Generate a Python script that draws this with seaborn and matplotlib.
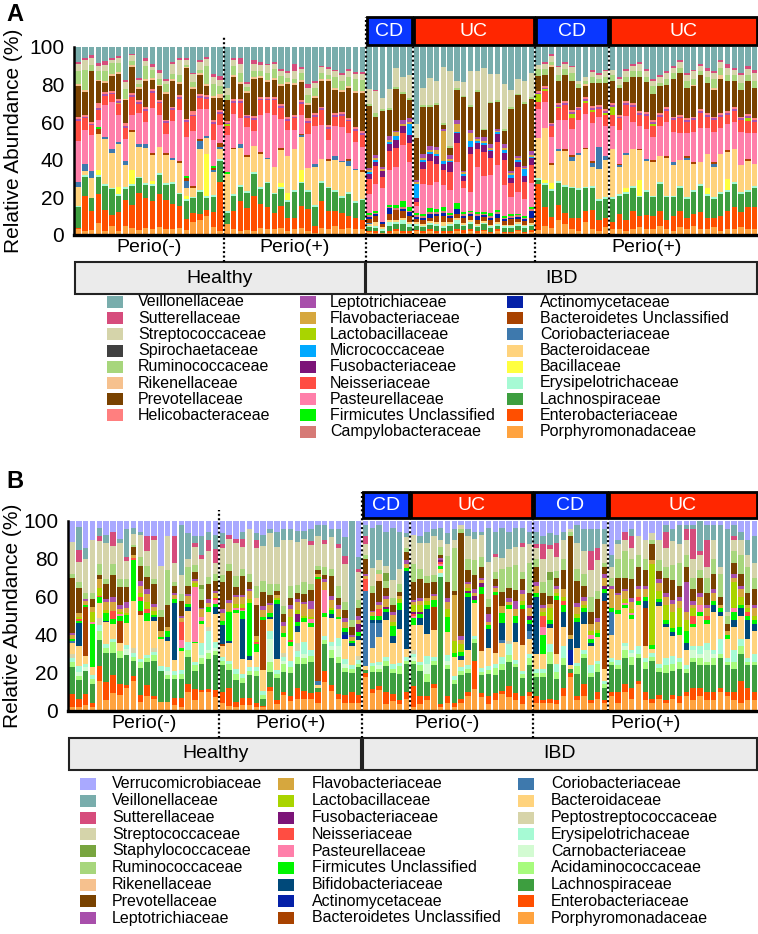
"""Stacked family-level relative abundance, oral (A) and gut (B) samples,
Healthy vs IBD split by periodontitis status. Writes out.png."""

import matplotlib

matplotlib.use('Agg')
import matplotlib.pyplot as plt
import pandas as pd
import seaborn as sns
from matplotlib.patches import Rectangle

W, H = 758, 934

COLORS = {
    'Porphyromonadaceae': '#ffa33f',
    'Enterobacteriaceae': '#ff4f00',
    'Lachnospiraceae': '#3d9e3f',
    'Erysipelotrichaceae': '#a6fad4',
    'Bacillaceae': '#ffff3f',
    'Bacteroidaceae': '#ffd37d',
    'Coriobacteriaceae': '#3e79ad',
    'Bacteroidetes Unclassified': '#a84200',
    'Actinomycetaceae': '#0521a8',
    'Campylobacteraceae': '#d67a76',
    'Firmicutes Unclassified': '#00f500',
    'Pasteurellaceae': '#ff7faa',
    'Neisseriaceae': '#ff4d42',
    'Fusobacteriaceae': '#7c1478',
    'Micrococcaceae': '#00a9ff',
    'Lactobacillaceae': '#a9d400',
    'Flavobacteriaceae': '#d6a73e',
    'Leptotrichiaceae': '#a84fab',
    'Helicobacteraceae': '#ff7f7f',
    'Prevotellaceae': '#794200',
    'Rikenellaceae': '#f6c18e',
    'Ruminococcaceae': '#a7d67c',
    'Spirochaetaceae': '#404040',
    'Streptococcaceae': '#d5d4aa',
    'Sutterellaceae': '#d64c7c',
    'Veillonellaceae': '#79adac',
    'Verrucomicrobiaceae': '#a9a9ff',
    'Staphylococcaceae': '#78a53f',
    'Bifidobacteriaceae': '#00497a',
    'Peptostreptococcaceae': '#d7d4a9',
    'Carnobacteriaceae': '#d3fbd2',
    'Acidaminococcaceae': '#a7fb7d',
}

# stacking order, bottom -> top
A_FAMILIES = [
    'Porphyromonadaceae', 'Enterobacteriaceae', 'Lachnospiraceae', 'Erysipelotrichaceae', 'Bacillaceae',
    'Bacteroidaceae', 'Coriobacteriaceae', 'Bacteroidetes Unclassified', 'Actinomycetaceae', 'Campylobacteraceae',
    'Firmicutes Unclassified', 'Pasteurellaceae', 'Neisseriaceae', 'Fusobacteriaceae', 'Micrococcaceae',
    'Lactobacillaceae', 'Flavobacteriaceae', 'Leptotrichiaceae', 'Helicobacteraceae', 'Prevotellaceae',
    'Rikenellaceae', 'Ruminococcaceae', 'Spirochaetaceae', 'Streptococcaceae', 'Sutterellaceae',
    'Veillonellaceae',
]
B_FAMILIES = [
    'Porphyromonadaceae', 'Enterobacteriaceae', 'Lachnospiraceae', 'Acidaminococcaceae', 'Carnobacteriaceae',
    'Erysipelotrichaceae', 'Peptostreptococcaceae', 'Bacteroidaceae', 'Coriobacteriaceae', 'Bacteroidetes Unclassified',
    'Actinomycetaceae', 'Bifidobacteriaceae', 'Firmicutes Unclassified', 'Pasteurellaceae', 'Neisseriaceae',
    'Fusobacteriaceae', 'Lactobacillaceae', 'Flavobacteriaceae', 'Leptotrichiaceae', 'Prevotellaceae',
    'Rikenellaceae', 'Ruminococcaceae', 'Staphylococcaceae', 'Streptococcaceae', 'Sutterellaceae',
    'Veillonellaceae', 'Verrucomicrobiaceae',
]

# ---- panel A, one row per sample, columns follow A_FAMILIES ----
A_HEALTHY_NEG = [
    [3, 1, 11, 1, 0, 10, 3, 0, 0, 0, 0, 22, 11, 0, 0, 0, 0, 1, 1, 17, 1, 7, 0, 4, 1, 8],
    [2, 19, 10, 1, 0, 2, 4, 0, 0, 0, 0, 18, 6, 0, 0, 0, 0, 1, 1, 12, 1, 11, 0, 5, 1, 6],
    [3, 10, 7, 0, 0, 11, 4, 0, 0, 0, 0, 20, 5, 0, 0, 0, 0, 1, 1, 28, 0, 3, 0, 4, 1.5, 4.5],
    [7, 16, 10, 1, 3, 20, 0, 3, 0, 0, 1, 4, 6, 0, 0, 0, 0, 1, 3, 12, 1, 5, 0, 3, 1.5, 9],
    [2, 12, 13, 1, 0, 25, 1, 0, 0, 0, 0, 18, 5, 0, 0, 0, 0, 1, 1, 5, 1, 6, 0, 3, 2, 8],
    [5, 6, 14, 1, 0, 19, 2, 0, 0, 0, 0, 26, 4, 0, 0, 0, 0, 1, 1, 8, 1, 6, 0, 2, 1, 6],
    [2, 11, 9, 1, 4, 24, 1, 0, 0, 0, 0, 15, 6, 0, 0, 0, 1, 1, 1, 14, 1, 5, 0, 3, 1, 5],
    [5, 14, 6, 1, 0, 12, 2, 0, 0, 0, 0, 12, 6, 0, 0, 0, 0, 1, 2, 12, 1, 5, 0, 4, 1, 18],
    [4, 12, 10, 1, 8, 20, 0, 1, 0, 0, 0, 8, 10, 0, 0, 0, 0, 1, 1, 14, 1, 2, 0, 3, 1, 3.5],
    [3, 20, 8, 1, 0, 16, 2, 0, 0, 0, 0, 17, 5, 0, 0, 0, 0, 1, 1, 6, 1, 2, 0, 2, 1, 17],
    [4, 16, 7, 1, 0, 19, 2, 0, 0, 0, 0, 12, 6, 0, 0, 0, 0, 1, 1, 14, 1, 7, 0, 3, 1.5, 6],
    [3, 15, 8, 1, 2, 14, 0, 1, 0, 0, 0, 24, 8, 0, 0, 0, 0, 1, 1, 5, 1, 4, 0, 2, 1.5, 9],
    [4, 18, 10, 1, 0, 14, 0, 0, 0, 0, 0, 17, 6, 0, 0, 0, 0, 1, 1, 7, 1, 3, 0, 3, 2, 12],
    [3, 16, 8, 1, 0, 15, 0, 1, 0, 0, 0, 10, 6, 0, 0, 0, 0, 1, 1, 14, 1, 4, 0, 2, 1, 17],
    [3, 14, 11, 1, 0, 12, 1, 0, 0, 0, 0, 20, 6, 0, 0, 0, 0, 1, 1, 14, 1, 3, 0, 5, 1.5, 8],
    [4, 12, 6, 1, 0, 16, 0, 1, 0, 0, 0, 28, 6, 0, 0, 0, 0, 1, 1, 6, 1, 4, 0, 8, 1, 6],
    [3, 6, 10, 1, 2, 4, 4, 2, 0, 0, 1, 22, 8, 0, 0, 0, 0, 1, 1, 28, 1, 1, 0, 3, 1, 6],
    [7, 5, 8, 1, 0, 5, 0, 1, 0, 0, 0, 30, 8, 0, 0, 0, 0, 1, 2, 12, 1, 3, 0, 4, 1, 14],
    [8, 3, 12, 1, 0, 22, 4, 1, 0, 0, 0, 16, 6, 0, 0, 0, 0, 1, 1, 10, 1, 2, 0, 4, 1, 7],
    [10, 3, 6, 1, 22, 8, 1, 0, 0, 0, 0, 14, 5, 0, 0, 0, 0, 1, 1, 5, 1, 9, 0, 4, 1, 5],
    [4, 8, 8, 1, 0, 12, 1, 1, 0, 0, 1, 14, 8, 0, 0, 0, 0, 1, 1, 12, 1, 6, 0, 4, 1.5, 14],
    [2, 24, 10, 1, 0, 5, 1, 2, 0, 0, 0, 9, 5, 0, 0, 0, 0, 1, 1, 6, 2, 4, 0, 3, 2, 14],
]
A_HEALTHY_POS = [
    [6, 0, 6, 1, 0, 20, 0, 0, 0, 0, 1, 20, 5, 0, 0, 1, 0, 1, 1, 11, 0, 3, 0, 4, 0, 22],
    [3, 10, 8, 1, 0, 24, 0, 1, 0, 0, 0, 18, 6, 0, 0, 0, 0, 1, 1, 12, 1, 5, 0, 3, 1, 6],
    [2, 16, 8, 1, 0, 20, 2, 0, 0, 0, 0, 14, 8, 0, 0, 0, 0, 1, 1, 8, 1, 5, 0, 5, 3, 6],
    [3, 12, 8, 1, 0, 19, 0, 1, 0, 0, 0, 15, 5, 0, 0, 0, 0, 1, 1, 12, 1, 2, 0, 2, 1, 19],
    [2, 19, 12, 1, 0, 14, 0, 0, 0, 0, 0, 8, 6, 0, 0, 0, 0, 1, 1, 20, 1, 3, 0, 4, 2, 7],
    [4, 13, 8, 1, 0, 18, 0, 1, 0, 0, 0, 20, 8, 0, 0, 0, 0, 1, 1, 10, 1, 3, 0, 3, 2, 8],
    [3, 12, 13, 1, 0, 12, 1, 0, 0, 0, 0, 24, 7, 0, 0, 0, 0, 1, 1, 8, 1, 4, 0, 4, 1, 9],
    [3, 9, 10, 1, 0, 14, 0, 0, 0, 0, 0, 28, 8, 0, 0, 0, 0, 1, 1, 9, 1, 5, 0, 3, 1, 8],
    [4, 12, 9, 1, 2, 18, 0, 1, 0, 0, 0, 16, 6, 0, 0, 0, 0, 1, 1, 10, 1, 4, 0, 3, 1, 12],
    [2, 7, 9, 1, 4, 20, 0, 0, 0, 0, 0, 14, 5, 0, 0, 0, 0, 1, 1, 18, 1, 2, 0, 3, 1, 13],
    [3, 6, 14, 1, 0, 22, 0, 0, 0, 0, 0, 10, 6, 0, 0, 0, 0, 1, 1, 16, 1, 2, 0, 4, 4, 9],
    [4, 12, 12, 1, 6, 18, 1, 1, 0, 0, 0, 10, 6, 0, 0, 0, 0, 1, 1, 10, 1, 4, 0, 2, 1, 11],
    [2, 12, 9, 1, 0, 12, 0, 0, 0, 0, 0, 18, 6, 0, 0, 0, 0, 1, 2, 7, 1, 4, 0, 4, 2, 20],
    [1, 4, 10, 1, 0, 20, 2, 0, 0, 0, 0, 20, 5, 0, 0, 0, 0, 1, 1, 8, 1, 4, 0, 3, 1, 18],
    [4, 14, 10, 1, 0, 12, 0, 0, 0, 0, 0, 18, 8, 0, 0, 0, 0, 1, 1, 14, 1, 3, 0, 3, 1, 10],
    [3, 10, 12, 1, 0, 14, 0, 1, 0, 0, 0, 10, 6, 0, 0, 0, 0, 1, 1, 24, 1, 2, 0, 3, 1, 11],
    [5, 8, 10, 1, 0, 16, 2, 0, 0, 0, 0, 16, 5, 0, 0, 0, 0, 1, 1, 12, 1, 6, 0, 3, 1, 12],
    [3, 9, 8, 1, 0, 18, 1, 0, 0, 0, 0, 18, 6, 0, 0, 0, 0, 1, 1, 11, 1, 5, 0, 3, 1, 14],
    [4, 6, 12, 1, 0, 14, 3, 1, 0, 0, 0, 14, 6, 0, 0, 0, 0, 1, 1, 16, 1, 5, 0, 3, 1, 12],
    [3, 6, 8, 1, 0, 16, 1, 0, 0, 0, 0, 14, 6, 0, 0, 0, 0, 1, 1, 18, 1, 6, 0, 3, 1, 13],
    [3, 5, 10, 1, 0, 14, 0, 1, 0, 0, 0, 12, 6, 0, 0, 0, 0, 1, 1, 20, 1, 6, 0, 3, 1, 13],
]
A_IBD_NEG_CD = [
    [1.5, 0.5, 2, 1, 0, 1, 0.5, 2, 1, 1, 1, 10, 8, 3, 1, 0, 1, 1, 0, 33, 0, 1, 0, 8, 0, 22],
    [1, 1, 2, 1, 0, 2, 0, 3, 1, 1, 1, 14, 10, 2, 1, 0, 1, 2, 0, 20, 0, 2, 0, 12, 0.5, 23],
    [1, 0, 1, 1, 0, 1, 0, 2, 1, 0, 0, 18, 6, 3, 0, 0, 1, 1, 0, 30, 0, 1, 0, 6, 0, 27],
    [1, 1, 3, 2, 0, 1, 0, 3, 3, 1, 1, 18, 10, 4, 1, 0, 1, 2, 0, 14, 0, 1, 0, 10, 0, 22],
    [2, 1, 3, 1, 0, 1, 0, 5, 0, 1, 2, 20, 10, 4, 2, 0, 2, 1, 0, 22, 0, 1, 0, 10, 0, 11],
    [1, 1, 4, 2, 0, 1, 0, 4, 1, 1, 3, 30, 6, 4, 0, 0, 1, 2, 0, 14, 0, 1, 0, 8, 0, 16],
    [1, 1, 2, 2, 0, 1, 0, 3, 2, 1, 2, 24, 10, 4, 6, 0, 1, 2, 0, 10, 0, 1, 0, 12, 0, 15],
]
A_IBD_NEG_UC = [
    [2, 1, 2, 1, 0, 1, 0, 2, 1, 1, 1, 4, 2, 2, 8, 0, 1, 1, 0, 23, 0, 0, 0, 8, 0, 42],
    [1, 1, 2, 1, 0, 1, 0, 2, 1, 1, 1, 16, 8, 4, 1, 0, 1, 2, 0, 25, 0, 1, 0, 9, 0, 22],
    [2, 1, 2, 1, 0, 1, 0, 2, 2, 1, 2, 12, 12, 4, 1, 0, 1, 2, 0, 20, 0, 1, 0, 14, 0, 16],
    [1, 1, 3, 1, 0, 1, 0, 3, 1, 1, 2, 14, 10, 4, 1, 0, 2, 2, 0, 22, 0, 1, 0, 12, 0, 18],
    [1, 1, 2, 1, 0, 2, 0, 3, 2, 1, 2, 12, 8, 3, 2, 0, 16, 1, 0, 2, 0, 1, 0, 30, 0, 11],
    [1, 1, 3, 1, 0, 1, 0, 2, 1, 1, 1, 12, 10, 5, 1, 0, 1, 2, 0, 4, 0, 1, 0, 40, 0, 13],
    [2, 1, 3, 2, 0, 1, 0, 2, 3, 0, 3, 22, 10, 5, 1, 0, 4, 2, 0, 16, 0, 1, 0, 4, 0, 18],
    [1, 2, 2, 1, 0, 1, 0, 3, 1, 1, 1, 14, 4, 3, 1, 0, 1, 1, 0, 42, 0, 1, 0, 8, 0, 20],
    [2, 1, 3, 1, 0, 1, 0, 2, 1, 1, 1, 10, 20, 4, 3, 0, 4, 2, 0, 12, 0, 1, 0, 18, 0, 13],
    [1, 1, 2, 1, 0, 1, 0, 2, 2, 1, 1, 24, 10, 3, 1, 0, 1, 1, 0, 24, 0, 1, 0, 10, 0, 13],
    [2, 1, 3, 1, 0, 1, 0, 2, 1, 1, 1, 20, 14, 4, 1, 0, 1, 2, 0, 4, 0, 1, 0, 34, 0, 12],
    [1, 1, 2, 1, 0, 1, 0, 3, 1, 1, 2, 22, 10, 4, 1, 0, 1, 2, 0, 24, 0, 1, 0, 16, 0, 16],
    [2, 1, 2, 1, 0, 1, 0, 2, 2, 1, 1, 24, 12, 4, 1, 0, 1, 1, 0, 14, 0, 1, 0, 14, 0, 14],
    [1, 1, 2, 1, 0, 1, 0, 2, 1, 1, 1, 18, 14, 4, 2, 0, 1, 2, 0, 8, 0, 1, 0, 26, 0, 21],
    [1, 1, 2, 1, 0, 1, 0, 3, 1, 1, 1, 10, 8, 3, 2, 0, 1, 1, 0, 36, 0, 1, 0, 10, 0, 25],
    [2, 1, 2, 1, 0, 1, 0, 2, 1, 1, 1, 12, 14, 3, 1, 0, 1, 1, 0, 34, 0, 1, 0, 8, 0, 18],
    [1, 1, 2, 1, 0, 1, 0, 2, 1, 1, 1, 10, 10, 3, 4, 0, 1, 1, 0, 36, 0, 1, 0, 12, 0, 20],
    [2, 1, 2, 1, 0, 1, 0, 3, 4, 1, 1, 14, 10, 4, 1, 0, 1, 2, 0, 30, 0, 1, 0, 14, 0, 15],
]
A_IBD_POS_CD = [
    [3, 25, 2, 1, 0, 22, 0, 0, 0, 0, 0, 16, 4, 0, 0, 4, 0, 1, 1, 8, 0, 4, 0, 2, 0, 10],
    [5, 10, 12, 1, 2, 28, 0, 0, 0, 0, 0, 14, 6, 0, 0, 1, 0, 1, 1, 6, 0, 3, 0, 3, 1, 8],
    [4, 6, 14, 1, 3, 10, 0, 1, 0, 0, 0, 14, 6, 0, 0, 0, 0, 1, 1, 30, 1, 2, 0, 3, 1, 4],
    [8, 8, 12, 1, 0, 16, 1, 0, 0, 0, 0, 16, 6, 0, 0, 1, 0, 1, 1, 12, 0, 3, 0, 4, 1, 10],
    [6, 6, 14, 1, 0, 18, 0, 1, 0, 0, 0, 16, 8, 0, 0, 0, 0, 1, 1, 14, 0, 3, 0, 3, 1, 8],
    [3, 6, 16, 1, 0, 14, 2, 1, 0, 0, 0, 14, 6, 0, 0, 2, 0, 1, 1, 16, 0, 4, 0, 3, 1, 10],
    [2, 7, 15, 1, 0, 18, 1, 0, 0, 0, 0, 18, 5, 0, 0, 0, 0, 1, 1, 10, 0, 2, 0, 2, 0, 18],
    [7, 6, 12, 1, 0, 20, 0, 1, 0, 0, 0, 18, 6, 0, 0, 1, 0, 1, 1, 6, 1, 2, 0, 2, 0, 16],
    [3, 10, 12, 1, 0, 10, 2, 1, 0, 0, 0, 20, 6, 0, 0, 1, 0, 1, 1, 12, 0, 3, 0, 3, 1, 12],
    [2, 6, 10, 1, 0, 16, 12, 0, 0, 0, 0, 16, 4, 0, 0, 0, 0, 1, 1, 12, 0, 2, 0, 2, 1, 14],
    [4, 5, 10, 1, 0, 20, 2, 0, 0, 0, 0, 16, 6, 0, 0, 1, 0, 1, 1, 14, 0, 3, 0, 3, 1, 12],
]
A_IBD_POS_UC = [
    [3, 4, 12, 1, 0, 26, 0, 0, 0, 0, 0, 12, 6, 0, 0, 4, 0, 1, 1, 12, 0, 3, 0, 3, 0, 12],
    [3, 8, 10, 1, 0, 14, 1, 1, 0, 0, 0, 18, 6, 0, 0, 0, 0, 1, 1, 14, 0, 2, 0, 3, 1, 16],
    [2, 6, 14, 1, 2, 18, 1, 0, 0, 0, 0, 20, 6, 0, 0, 0, 0, 1, 1, 10, 0, 3, 0, 3, 1, 12],
    [3, 10, 12, 1, 0, 20, 0, 0, 0, 0, 0, 14, 8, 0, 0, 0, 0, 1, 1, 14, 0, 3, 0, 3, 1, 9],
    [4, 6, 10, 1, 8, 16, 0, 1, 0, 0, 0, 12, 6, 0, 0, 0, 0, 1, 1, 18, 0, 3, 0, 4, 1, 8],
    [3, 8, 12, 1, 0, 16, 1, 0, 0, 0, 0, 16, 7, 0, 0, 0, 0, 1, 1, 16, 0, 3, 0, 3, 1, 12],
    [3, 7, 10, 1, 0, 18, 0, 1, 0, 0, 0, 12, 6, 0, 0, 1, 0, 1, 1, 14, 0, 4, 0, 3, 1, 17],
    [5, 8, 14, 1, 0, 14, 0, 0, 0, 0, 0, 16, 5, 0, 0, 0, 0, 1, 1, 14, 0, 2, 0, 3, 1, 15],
    [3, 5, 12, 1, 0, 20, 0, 1, 0, 0, 0, 18, 6, 0, 0, 0, 0, 1, 1, 12, 0, 3, 0, 3, 1, 13],
    [2, 8, 10, 1, 0, 16, 2, 0, 0, 0, 0, 16, 6, 0, 0, 0, 0, 1, 1, 20, 0, 3, 0, 3, 1, 10],
    [4, 9, 12, 1, 0, 14, 0, 0, 0, 0, 0, 14, 8, 0, 0, 0, 0, 1, 1, 22, 0, 3, 0, 3, 1, 7],
    [3, 6, 10, 1, 0, 20, 1, 1, 0, 0, 0, 12, 6, 0, 0, 0, 0, 1, 1, 16, 0, 4, 0, 3, 1, 14],
    [5, 6, 12, 1, 0, 14, 0, 1, 0, 0, 0, 16, 6, 0, 0, 0, 0, 1, 1, 16, 1, 3, 0, 4, 1, 12],
    [3, 9, 14, 1, 0, 12, 0, 0, 0, 0, 0, 18, 8, 0, 0, 0, 0, 1, 1, 18, 0, 2, 0, 3, 1, 9],
    [3, 6, 12, 1, 3, 18, 0, 0, 0, 0, 0, 14, 6, 0, 0, 0, 0, 1, 1, 16, 0, 3, 0, 3, 2, 11],
    [4, 5, 10, 1, 0, 16, 2, 1, 0, 0, 0, 16, 6, 0, 0, 0, 0, 1, 1, 14, 1, 5, 0, 3, 1, 13],
    [2, 8, 12, 1, 0, 20, 0, 0, 0, 0, 0, 14, 6, 0, 0, 0, 0, 1, 1, 18, 2, 4, 0, 3, 1, 7],
    [3, 10, 10, 1, 6, 14, 0, 1, 0, 0, 0, 14, 5, 0, 0, 0, 0, 1, 1, 16, 0, 3, 0, 4, 2, 9],
    [3, 12, 12, 1, 0, 18, 0, 0, 0, 0, 0, 14, 6, 0, 0, 0, 0, 1, 1, 14, 0, 3, 0, 3, 1, 11],
    [4, 8, 10, 1, 0, 14, 0, 0, 0, 0, 0, 18, 6, 0, 0, 0, 0, 1, 1, 14, 0, 4, 0, 4, 1, 14],
    [3, 12, 8, 1, 0, 16, 0, 1, 0, 0, 0, 14, 6, 0, 0, 2, 0, 1, 1, 18, 0, 3, 0, 3, 2, 10],
    [3, 12, 10, 1, 0, 12, 0, 0, 0, 0, 0, 16, 6, 0, 0, 0, 0, 1, 1, 16, 0, 4, 0, 4, 2, 12],
]

# ---- panel B, columns follow B_FAMILIES ----
B_HEALTHY_NEG = [
    [2, 7, 14, 3, 0, 2, 2, 6, 1, 0, 0, 0, 1, 0, 0, 0, 0, 2, 1, 29, 0, 2, 0, 17, 0, 0, 11],
    [2, 4, 10, 2, 2, 3, 0, 10, 0, 0, 0, 12, 1, 0, 1, 0, 1, 2, 0, 13, 0, 3, 0, 10, 6, 12, 3],
    [3, 6, 12, 0, 2, 2, 0, 4, 0, 26, 0, 0, 1, 0, 0, 0, 0, 2, 1, 0, 0, 3, 0, 18, 0, 6, 14],
    [2, 2, 10, 3, 0, 2, 0, 4, 0, 0, 0, 0, 23, 1, 0, 0, 5, 3, 0, 4, 0, 3, 0, 28, 0, 0, 10],
    [16, 8, 14, 5, 0, 3, 4, 8, 0, 0, 0, 0, 3, 0, 1, 0, 4, 5, 0, 2, 0, 6, 0, 12, 3, 4, 4],
    [6, 10, 16, 3, 0, 2, 0, 12, 0, 0, 0, 1, 4, 0, 0, 0, 2, 4, 2, 8, 0, 3, 0, 20, 0, 4, 8],
    [10, 10, 12, 6, 0, 2, 0, 8, 0, 0, 0, 0, 3, 0, 4, 0, 0, 5, 3, 12, 0, 6, 0, 10, 8, 0, 6],
    [9, 6, 14, 4, 0, 0, 0, 4, 0, 12, 0, 0, 3, 1, 0, 0, 1, 2, 2, 10, 0, 4, 0, 20, 0, 2, 10],
    [12, 2, 16, 0, 3, 2, 0, 12, 0, 0, 0, 0, 4, 0, 0, 0, 1, 3, 3, 8, 0, 4, 0, 10, 2, 15, 4],
    [16, 3, 8, 2, 0, 2, 3, 25, 0, 0, 0, 0, 22, 0, 1, 0, 0, 2, 0, 4, 0, 1, 0, 6, 0, 3, 4],
    [5, 4, 15, 3, 0, 2, 0, 24, 0, 2, 0, 0, 6, 0, 2, 0, 2, 4, 3, 8, 0, 5, 0, 12, 0, 2, 6],
    [8, 6, 12, 2, 0, 2, 0, 18, 0, 0, 0, 0, 4, 0, 2, 0, 4, 4, 3, 6, 0, 6, 0, 8, 8, 0, 8],
    [6, 2, 18, 3, 0, 2, 2, 14, 0, 0, 0, 2, 1, 0, 0, 0, 2, 2, 2, 10, 0, 3, 0, 20, 2, 0, 8],
    [4, 0, 14, 0, 0, 2, 0, 12, 0, 0, 0, 0, 1, 0, 0, 0, 0, 3, 0, 6, 0, 3, 0, 20, 0, 0, 20],
    [5, 0, 12, 2, 2, 2, 0, 14, 0, 0, 0, 2, 3, 0, 0, 0, 0, 2, 0, 12, 0, 18, 0, 18, 0, 0, 8],
    [3, 4, 10, 2, 0, 2, 0, 6, 0, 0, 0, 30, 2, 0, 0, 0, 0, 2, 1, 4, 0, 2, 0, 10, 14, 0, 8],
    [2, 5, 10, 3, 0, 2, 0, 10, 0, 0, 0, 0, 2, 4, 10, 0, 0, 2, 1, 8, 0, 4, 0, 10, 0, 27, 2],
    [10, 4, 14, 4, 0, 4, 0, 16, 0, 0, 0, 2, 2, 0, 0, 0, 0, 4, 1, 4, 0, 10, 0, 4, 0, 14, 6],
    [6, 6, 10, 3, 0, 2, 0, 10, 0, 0, 0, 0, 1, 30, 0, 0, 2, 1, 1, 4, 0, 4, 0, 10, 2, 4, 8],
    [10, 1, 14, 3, 2, 6, 0, 10, 0, 0, 0, 0, 2, 2, 0, 0, 0, 4, 1, 4, 0, 6, 2, 14, 2, 10, 8],
    [10, 2, 16, 3, 2, 10, 2, 8, 0, 0, 0, 0, 3, 0, 0, 0, 0, 2, 2, 8, 0, 4, 0, 14, 6, 4, 6],
    [8, 4, 20, 2, 2, 3, 0, 16, 0, 0, 0, 4, 2, 2, 1, 0, 1, 2, 1, 6, 0, 4, 0, 6, 8, 8, 8],
]
B_HEALTHY_POS = [
    [4, 6, 14, 2, 0, 2, 0, 6, 0, 1, 0, 10, 2, 0, 0, 0, 0, 4, 2, 14, 0, 4, 0, 14, 2, 6, 6],
    [3, 10, 10, 3, 0, 2, 0, 10, 0, 0, 0, 1, 16, 0, 0, 0, 1, 4, 2, 16, 0, 4, 0, 14, 2, 0, 8],
    [2, 3, 12, 3, 0, 3, 0, 30, 0, 0, 0, 0, 2, 1, 0, 0, 2, 4, 1, 4, 0, 6, 0, 18, 2, 0, 10],
    [3, 4, 8, 3, 0, 2, 0, 8, 0, 0, 0, 22, 4, 1, 1, 0, 2, 4, 1, 10, 0, 4, 0, 12, 4, 4, 6],
    [3, 4, 12, 2, 0, 2, 0, 4, 0, 0, 0, 2, 28, 0, 0, 0, 2, 4, 1, 4, 0, 4, 0, 24, 0, 0, 4],
    [2, 2, 14, 3, 0, 2, 0, 8, 0, 0, 0, 0, 4, 0, 1, 0, 1, 2, 0, 16, 4, 6, 0, 20, 4, 4, 6],
    [2, 1, 4, 2, 0, 2, 0, 12, 0, 28, 0, 0, 2, 0, 0, 0, 0, 4, 2, 8, 0, 6, 0, 20, 0, 6, 8],
    [10, 2, 8, 5, 12, 4, 0, 6, 0, 0, 0, 1, 2, 0, 0, 0, 0, 4, 1, 4, 0, 6, 0, 26, 0, 2, 4],
    [4, 2, 12, 2, 0, 2, 0, 6, 0, 0, 0, 30, 2, 0, 0, 0, 1, 2, 0, 2, 0, 4, 0, 20, 0, 8, 6],
    [8, 2, 10, 4, 2, 2, 2, 8, 0, 0, 0, 0, 2, 0, 0, 0, 0, 4, 2, 4, 0, 4, 0, 34, 0, 6, 4],
    [5, 3, 12, 3, 0, 3, 0, 8, 0, 0, 0, 0, 2, 0, 1, 0, 12, 4, 2, 4, 0, 6, 0, 24, 0, 6, 4],
    [6, 6, 12, 4, 0, 3, 4, 6, 0, 0, 0, 3, 2, 0, 0, 4, 2, 4, 2, 3, 0, 4, 0, 22, 0, 6, 5],
    [6, 4, 14, 3, 2, 6, 0, 10, 0, 0, 0, 0, 2, 0, 0, 0, 1, 6, 1, 4, 0, 6, 0, 22, 0, 4, 5],
    [6, 3, 16, 3, 0, 3, 0, 12, 0, 0, 0, 0, 2, 2, 0, 0, 1, 4, 4, 6, 0, 3, 0, 20, 2, 6, 4],
    [4, 6, 2, 0, 0, 0, 0, 2, 2, 54, 0, 0, 1, 0, 0, 0, 0, 2, 0, 2, 0, 2, 0, 16, 0, 6, 2],
    [15, 6, 14, 2, 0, 2, 0, 10, 0, 0, 0, 0, 2, 12, 0, 0, 0, 4, 2, 2, 0, 4, 0, 12, 2, 8, 2],
    [10, 3, 14, 4, 2, 2, 0, 12, 0, 0, 0, 2, 2, 0, 0, 0, 1, 4, 2, 10, 0, 4, 0, 16, 0, 4, 4],
    [6, 3, 16, 3, 6, 4, 0, 10, 0, 0, 0, 0, 1, 0, 0, 0, 0, 4, 2, 4, 0, 6, 0, 20, 2, 8, 4],
    [4, 4, 12, 2, 2, 3, 0, 10, 0, 0, 2, 2, 2, 0, 0, 0, 0, 3, 2, 4, 0, 4, 0, 20, 4, 10, 8],
    [4, 6, 10, 2, 0, 2, 0, 10, 0, 0, 0, 2, 1, 0, 0, 0, 0, 2, 1, 4, 0, 4, 0, 0, 0, 52, 0],
    [4, 4, 14, 2, 0, 2, 2, 8, 0, 0, 0, 2, 2, 0, 0, 4, 0, 2, 2, 4, 0, 4, 0, 14, 2, 6, 18],
]
B_IBD_NEG_CD = [
    [18, 2, 2, 0, 0, 0, 0, 2, 40, 0, 0, 0, 0, 0, 6, 0, 0, 2, 1, 8, 0, 2, 0, 6, 4, 6, 2],
    [10, 2, 10, 3, 0, 2, 0, 8, 14, 0, 0, 2, 2, 0, 0, 0, 0, 2, 1, 10, 0, 4, 0, 10, 0, 22, 4],
    [12, 2, 8, 2, 2, 2, 0, 14, 8, 0, 0, 2, 2, 0, 4, 0, 0, 2, 2, 12, 4, 2, 0, 6, 0, 20, 2],
    [4, 6, 14, 3, 0, 2, 0, 20, 0, 0, 0, 4, 2, 0, 0, 1, 0, 4, 2, 4, 0, 4, 4, 4, 0, 18, 6],
    [6, 4, 12, 2, 0, 3, 0, 12, 0, 0, 0, 4, 6, 0, 0, 0, 2, 4, 2, 4, 0, 4, 0, 10, 0, 30, 4],
    [4, 2, 14, 4, 0, 2, 0, 18, 0, 0, 0, 10, 4, 0, 0, 0, 2, 2, 0, 2, 0, 4, 0, 8, 0, 20, 6],
    [6, 4, 14, 2, 0, 2, 0, 4, 0, 0, 0, 40, 2, 0, 0, 0, 0, 2, 2, 4, 0, 2, 0, 6, 0, 2, 6],
]
B_IBD_NEG_UC = [
    [2, 12, 12, 2, 2, 2, 2, 14, 0, 0, 0, 0, 4, 1, 1, 1, 4, 2, 1, 10, 0, 10, 0, 16, 0, 0, 8],
    [4, 4, 14, 3, 0, 2, 0, 20, 0, 0, 0, 4, 2, 0, 0, 1, 4, 2, 2, 10, 0, 6, 0, 14, 0, 4, 8],
    [6, 2, 8, 4, 6, 4, 0, 12, 0, 0, 0, 14, 2, 0, 0, 0, 2, 2, 0, 8, 0, 4, 0, 18, 0, 6, 6],
    [12, 2, 10, 2, 0, 2, 0, 14, 0, 12, 0, 0, 4, 0, 0, 0, 0, 2, 1, 6, 0, 4, 0, 20, 0, 4, 4],
    [2, 2, 68, 0, 0, 2, 0, 2, 0, 0, 0, 0, 2, 1, 1, 1, 0, 0, 1, 2, 0, 4, 0, 4, 0, 6, 4],
    [4, 4, 14, 2, 2, 3, 0, 12, 0, 0, 0, 0, 8, 0, 0, 0, 4, 4, 2, 8, 0, 14, 0, 6, 0, 6, 6],
    [2, 2, 10, 2, 0, 2, 0, 10, 0, 0, 0, 0, 2, 0, 0, 0, 6, 24, 0, 2, 0, 22, 0, 4, 0, 6, 4],
    [4, 2, 12, 2, 0, 2, 0, 4, 0, 0, 0, 2, 2, 0, 0, 0, 4, 2, 2, 52, 0, 2, 0, 2, 0, 0, 2],
    [8, 2, 10, 2, 0, 2, 0, 8, 0, 0, 0, 28, 2, 0, 0, 1, 2, 2, 1, 6, 0, 6, 0, 12, 0, 4, 4],
    [12, 16, 10, 2, 0, 2, 0, 18, 0, 0, 0, 0, 2, 0, 0, 2, 0, 2, 2, 8, 0, 8, 0, 12, 0, 4, 6],
    [8, 2, 10, 2, 0, 2, 0, 10, 0, 32, 0, 0, 4, 0, 0, 2, 0, 2, 1, 6, 0, 6, 0, 12, 0, 2, 6],
    [4, 4, 12, 2, 0, 2, 0, 10, 0, 0, 0, 10, 2, 0, 0, 0, 0, 2, 4, 4, 0, 4, 0, 20, 0, 18, 4],
    [6, 4, 10, 4, 0, 2, 0, 6, 0, 32, 0, 0, 2, 0, 0, 0, 0, 2, 1, 4, 0, 4, 0, 8, 2, 12, 6],
    [10, 2, 12, 4, 0, 4, 0, 8, 2, 0, 0, 10, 6, 0, 0, 0, 0, 4, 0, 8, 0, 14, 0, 6, 0, 18, 4],
    [8, 6, 14, 4, 0, 6, 2, 18, 0, 0, 0, 0, 2, 0, 0, 0, 0, 2, 2, 6, 0, 12, 0, 10, 0, 10, 6],
    [6, 4, 14, 2, 0, 2, 0, 10, 0, 0, 0, 10, 4, 0, 0, 0, 0, 4, 4, 6, 0, 14, 0, 10, 0, 10, 4],
    [4, 4, 10, 2, 0, 2, 0, 14, 0, 20, 0, 0, 2, 0, 0, 0, 2, 4, 2, 6, 0, 4, 0, 14, 2, 8, 4],
    [8, 2, 14, 4, 0, 2, 0, 8, 4, 0, 0, 4, 2, 0, 0, 2, 0, 4, 2, 6, 0, 16, 0, 10, 0, 6, 6],
]
B_IBD_POS_CD = [
    [4, 4, 10, 2, 0, 2, 0, 8, 0, 0, 0, 30, 2, 0, 0, 0, 0, 4, 2, 8, 0, 4, 0, 6, 2, 6, 6],
    [4, 2, 12, 2, 0, 2, 0, 8, 0, 0, 0, 0, 10, 4, 6, 0, 2, 2, 2, 6, 0, 6, 0, 12, 8, 4, 8],
    [4, 2, 18, 6, 0, 4, 0, 8, 0, 0, 0, 2, 2, 0, 0, 0, 6, 2, 0, 4, 0, 8, 4, 12, 2, 6, 6],
    [4, 2, 12, 4, 0, 4, 0, 6, 0, 30, 0, 0, 2, 0, 0, 0, 2, 2, 2, 4, 0, 4, 0, 8, 8, 4, 8],
    [8, 4, 12, 4, 0, 6, 0, 10, 0, 0, 0, 8, 4, 0, 2, 0, 2, 4, 0, 10, 0, 6, 0, 10, 0, 4, 6],
    [18, 2, 2, 0, 0, 0, 0, 2, 0, 0, 8, 6, 0, 0, 0, 0, 0, 2, 0, 52, 0, 2, 0, 2, 0, 0, 4],
    [6, 2, 12, 4, 0, 2, 0, 8, 0, 0, 0, 14, 2, 0, 0, 0, 2, 4, 2, 12, 0, 6, 0, 14, 0, 10, 2],
    [8, 6, 14, 2, 0, 2, 0, 14, 0, 0, 0, 6, 2, 0, 0, 0, 2, 2, 2, 6, 0, 6, 0, 12, 0, 12, 4],
    [4, 2, 12, 2, 0, 4, 0, 10, 0, 0, 0, 2, 2, 2, 0, 0, 2, 4, 0, 6, 0, 8, 0, 14, 10, 12, 4],
    [6, 4, 10, 4, 0, 2, 0, 12, 0, 0, 0, 0, 2, 0, 0, 0, 2, 4, 2, 10, 0, 4, 0, 16, 6, 10, 4],
    [4, 2, 6, 2, 0, 2, 0, 6, 0, 36, 0, 4, 2, 0, 0, 2, 0, 4, 2, 4, 0, 2, 0, 10, 0, 8, 4],
]
B_IBD_POS_UC = [
    [8, 2, 14, 2, 0, 2, 0, 12, 12, 0, 0, 0, 2, 0, 0, 0, 0, 10, 2, 0, 0, 4, 0, 6, 0, 6, 18],
    [4, 6, 12, 2, 0, 3, 0, 24, 0, 0, 0, 0, 2, 0, 0, 0, 0, 8, 1, 8, 0, 10, 0, 8, 0, 2, 10],
    [10, 4, 14, 4, 2, 2, 0, 18, 0, 0, 0, 0, 2, 1, 0, 0, 2, 4, 1, 6, 0, 14, 0, 6, 4, 0, 6],
    [6, 6, 12, 4, 2, 2, 0, 16, 0, 0, 0, 0, 2, 1, 0, 0, 2, 4, 2, 10, 0, 10, 0, 6, 6, 4, 4],
    [14, 2, 12, 2, 0, 4, 0, 22, 0, 0, 0, 0, 2, 0, 2, 0, 0, 4, 2, 10, 0, 6, 0, 10, 0, 0, 8],
    [6, 4, 12, 4, 0, 2, 0, 6, 0, 20, 0, 4, 2, 0, 0, 0, 0, 4, 2, 8, 0, 6, 0, 10, 0, 0, 10],
    [4, 2, 20, 2, 0, 2, 0, 2, 0, 0, 0, 0, 2, 0, 0, 0, 42, 2, 0, 8, 0, 2, 0, 4, 0, 0, 6],
    [6, 2, 12, 2, 0, 2, 0, 30, 0, 0, 0, 2, 2, 0, 0, 0, 4, 4, 2, 4, 0, 6, 0, 10, 0, 0, 10],
    [4, 2, 14, 4, 0, 4, 0, 16, 0, 0, 0, 2, 2, 0, 0, 0, 8, 4, 2, 8, 0, 6, 0, 10, 8, 4, 2],
    [6, 2, 12, 4, 0, 4, 0, 10, 0, 0, 0, 2, 2, 0, 0, 0, 8, 4, 2, 10, 0, 8, 0, 12, 0, 6, 4],
    [4, 4, 14, 4, 0, 2, 0, 12, 0, 0, 0, 0, 4, 0, 0, 0, 10, 4, 2, 6, 0, 12, 0, 10, 0, 10, 2],
    [8, 2, 10, 2, 0, 2, 0, 8, 0, 0, 0, 4, 6, 0, 0, 0, 6, 4, 16, 8, 0, 6, 0, 8, 6, 2, 2],
    [6, 6, 14, 2, 4, 2, 0, 10, 0, 0, 0, 0, 2, 0, 4, 0, 4, 2, 2, 6, 0, 6, 0, 10, 16, 2, 2],
    [8, 4, 12, 4, 2, 4, 0, 16, 0, 0, 0, 0, 2, 4, 0, 0, 0, 4, 2, 8, 0, 4, 0, 8, 2, 16, 0],
    [6, 4, 14, 2, 6, 4, 0, 10, 0, 0, 0, 0, 2, 0, 2, 0, 0, 4, 2, 6, 0, 8, 0, 6, 14, 8, 2],
    [6, 4, 14, 4, 2, 2, 0, 20, 0, 0, 0, 4, 2, 0, 0, 0, 0, 4, 2, 8, 0, 8, 0, 10, 0, 8, 2],
    [10, 2, 16, 2, 0, 8, 0, 12, 0, 0, 0, 2, 2, 0, 0, 0, 0, 2, 0, 4, 0, 12, 0, 4, 0, 22, 2],
    [8, 2, 14, 2, 0, 2, 0, 10, 0, 0, 0, 0, 2, 0, 0, 0, 0, 2, 0, 4, 0, 4, 0, 2, 0, 44, 4],
    [6, 4, 12, 4, 0, 6, 0, 12, 0, 0, 0, 4, 4, 2, 0, 0, 14, 2, 2, 6, 0, 6, 0, 6, 2, 6, 2],
    [4, 12, 14, 4, 0, 4, 0, 12, 0, 0, 0, 4, 2, 0, 0, 0, 4, 4, 2, 6, 0, 10, 0, 8, 0, 4, 6],
    [6, 6, 12, 2, 0, 2, 0, 10, 0, 0, 0, 10, 2, 0, 2, 0, 2, 2, 0, 6, 0, 14, 0, 6, 0, 8, 10],
    [6, 4, 14, 2, 0, 4, 0, 12, 0, 0, 0, 4, 2, 0, 0, 0, 2, 4, 2, 8, 0, 6, 0, 8, 0, 14, 8],
]

A_GROUPS = [A_HEALTHY_NEG, A_HEALTHY_POS, A_IBD_NEG_CD, A_IBD_NEG_UC, A_IBD_POS_CD, A_IBD_POS_UC]
B_GROUPS = [B_HEALTHY_NEG, B_HEALTHY_POS, B_IBD_NEG_CD, B_IBD_NEG_UC, B_IBD_POS_CD, B_IBD_POS_UC]

PERIO_LABELS = ['Perio(-)', 'Perio(+)', 'Perio(-)', 'Perio(+)']
STATUS_LABELS = ['Healthy', 'IBD']
CD_BLUE = '#0a37ff'
UC_RED = '#ff2600'
BOX_GRAY = '#ebebeb'


def long_table(families, groups):
    rows = []
    i = 0
    for g in groups:
        for sample in g:
            assert len(sample) == len(families)
            total = sum(sample)
            for fam, v in zip(families, sample):
                rows.append((i, fam, 100 * v / total))
            i += 1
    return pd.DataFrame(rows, columns=['sample', 'family', 'pct'])


def bars(fig, px, families, groups, geo):
    left, right, y0, y100 = px
    ax = fig.add_axes([left / W, 1 - y0 / H, (right - left) / W, (y0 - y100) / H])
    df = long_table(families, groups)
    sns.histplot(
        df, x='sample', weights='pct', hue='family', hue_order=families[::-1],
        palette=COLORS, multiple='stack', discrete=True, shrink=0.8,
        alpha=1, linewidth=0, edgecolor='none', legend=False, ax=ax,
    )
    n = sum(len(g) for g in groups)
    ax.set_xlim(-0.6, n - 0.5)
    ax.set_ylim(0, 100)
    ax.set_yticks([0, 20, 40, 60, 80, 100])
    ax.set_xticks([])
    ax.set_xlabel('')
    ax.set_ylabel('Relative Abundance (%)', fontsize=15)
    ax.yaxis.set_label_coords(geo['ylab_x'], 0.5)
    ax.tick_params(axis='y', labelsize=15, length=5, width=1.6, pad=2, color='black')
    for side in ('top', 'right'):
        ax.spines[side].set_visible(False)
    ax.spines['left'].set_linewidth(1.8)
    ax.spines['bottom'].set_linewidth(2.4)
    ax.spines['left'].set_color('black')
    ax.spines['bottom'].set_color('black')
    ax.set_facecolor('white')

    sizes = [len(g) for g in groups]
    edges = [sum(sizes[:k]) - 0.5 for k in range(len(sizes) + 1)]
    dot = dict(color='black', lw=1.6, linestyle=(0, (0.9, 1.1)), clip_on=False, zorder=6)
    bot, hdr_lo, hdr_hi = geo['box_top'], geo['hdr_lo'], geo['hdr_hi']
    ax.plot([edges[1]] * 2, [bot, geo['sep_top']], **dot)
    ax.plot([edges[2]] * 2, [bot, hdr_hi], **dot)
    ax.plot([edges[4]] * 2, [bot, hdr_hi], **dot)
    ax.plot([edges[3]] * 2, [0, 100], **dot)
    ax.plot([edges[5]] * 2, [0, 100], **dot)

    # CD / UC header boxes
    for k, (lab, col) in zip(range(2, 6), [('CD', CD_BLUE), ('UC', UC_RED)] * 2):
        x0, x1 = edges[k] + 0.15, min(edges[k + 1] - 0.15, n - 0.55)
        ax.add_patch(Rectangle((x0, hdr_lo), x1 - x0, hdr_hi - hdr_lo, facecolor=col,
                               edgecolor='black', lw=2, clip_on=False, zorder=5))
        ax.text((x0 + x1) / 2, (hdr_lo + hdr_hi) / 2 - 0.5, lab, color='white', fontsize=14,
                ha='center', va='center', clip_on=False, zorder=8)

    # Perio labels, then Healthy / IBD boxes
    for k, lab in enumerate(PERIO_LABELS):
        a, b = [(0, 1), (1, 2), (2, 4), (4, 6)][k]
        ax.text((edges[a] + edges[b]) / 2, geo['perio_y'], lab, fontsize=14,
                ha='center', va='center', clip_on=False)
    for (a, b), lab in zip([(0, 2), (2, 6)], STATUS_LABELS):
        x0, x1 = edges[a] + 0.08, min(edges[b] - 0.12, n - 0.55)
        ax.add_patch(Rectangle((x0, geo['box_bot']), x1 - x0, geo['box_top'] - geo['box_bot'],
                               facecolor=BOX_GRAY, edgecolor='#222222', lw=1.5, clip_on=False))
        ax.text((x0 + x1) / 2, (geo['box_top'] + geo['box_bot']) / 2, lab, fontsize=14,
                ha='center', va='center', clip_on=False)
    return ax


def legend(ov, families, col_sizes, patch_x, text_x, y0, dy):
    order = families[::-1]
    k = 0
    for c, size in enumerate(col_sizes):
        for r in range(size):
            fam = order[k]
            y = y0 + r * dy
            ov.add_patch(Rectangle((patch_x[c], y - 6), 16, 12, facecolor=COLORS[fam], edgecolor='none'))
            ov.text(text_x[c], y, fam, fontsize=11.5, va='center', ha='left')
            k += 1


def main():
    sns.set_theme(style='white')
    plt.rcParams['font.family'] = ['Liberation Sans', 'DejaVu Sans']
    plt.rcParams['text.color'] = 'black'
    plt.rcParams['ytick.color'] = 'black'
    plt.rcParams['axes.labelcolor'] = 'black'

    fig = plt.figure(figsize=(W / 100, H / 100), dpi=100)
    ov = fig.add_axes([0, 0, 1, 1])
    ov.set_xlim(0, W)
    ov.set_ylim(H, 0)
    ov.axis('off')

    # ylab_x puts the right edge of the rotated label ~22 px from the figure edge
    geo_a = dict(ylab_x=-0.075, perio_y=-6.9, box_top=-14.4, box_bot=-31.4,
                 hdr_lo=101.0, hdr_hi=116.0, sep_top=105.3)
    geo_b = dict(ylab_x=-0.066, perio_y=-6.8, box_top=-14.2, box_bot=-31.0,
                 hdr_lo=101.6, hdr_hi=115.3, sep_top=106.0)
    bars(fig, (74, 758, 235, 47), A_FAMILIES, A_GROUPS, geo_a)
    bars(fig, (68, 758, 711, 521), B_FAMILIES, B_GROUPS, geo_b)

    legend(ov, A_FAMILIES, [8, 9, 9], [107, 300, 507], [138, 330, 540], 302, 16.2)
    legend(ov, B_FAMILIES, [9, 9, 9], [80, 278, 518], [112, 312, 551], 784, 16.75)

    ov.text(6, 3, 'A', fontsize=17, fontweight='bold', va='top', ha='left')
    ov.text(6, 470, 'B', fontsize=17, fontweight='bold', va='top', ha='left')

    fig.savefig('out.png', dpi=100, facecolor='white')


if __name__ == '__main__':
    main()
